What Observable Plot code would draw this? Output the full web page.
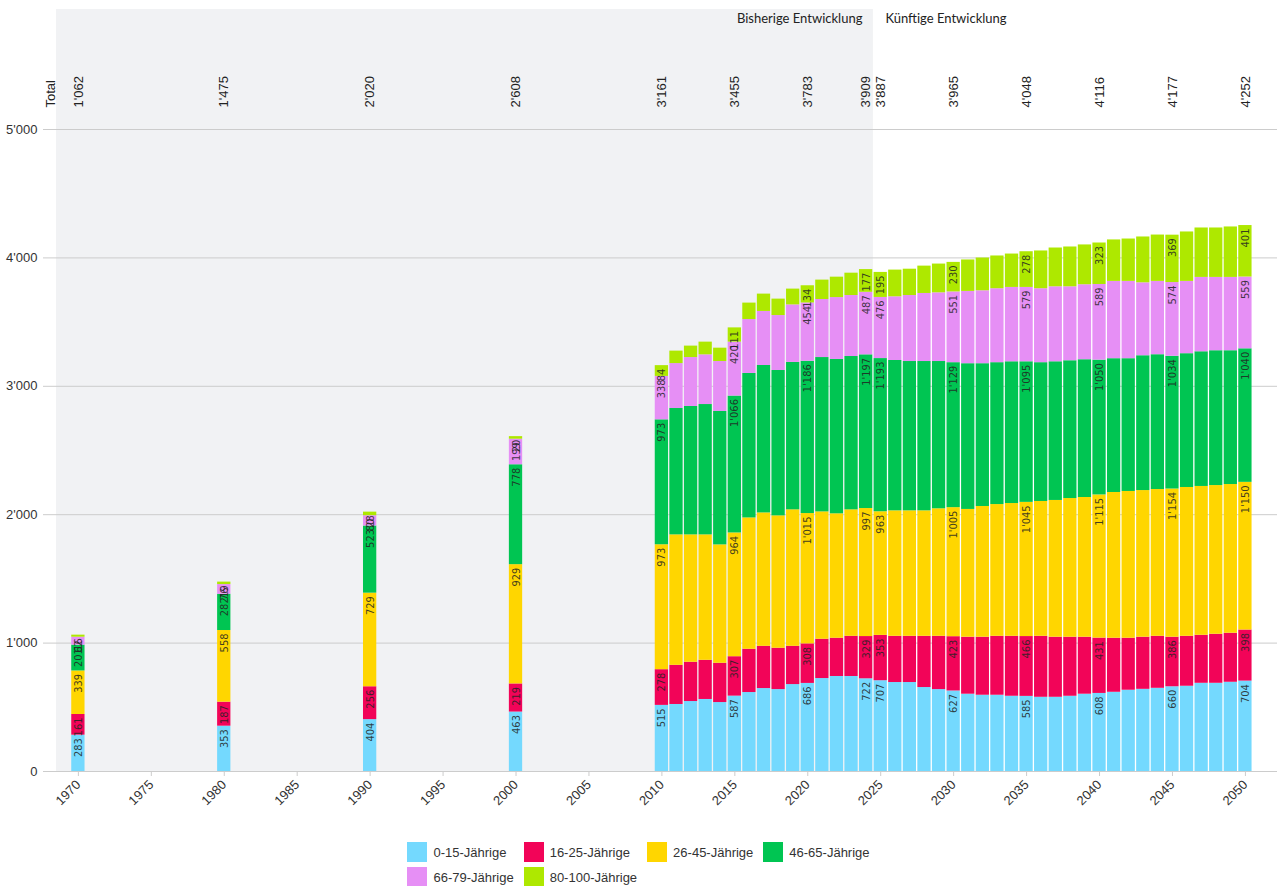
<!DOCTYPE html>
<html><head><meta charset="utf-8">
<script src="https://cdn.jsdelivr.net/npm/d3@7"></script>
<script src="https://cdn.jsdelivr.net/npm/@observablehq/plot@0.6"></script>
<style>
body{margin:0;background:#fff;font-family:"Liberation Sans",Arial,sans-serif;}
#legend{display:grid;grid-template-columns:repeat(4,auto);justify-content:center;column-gap:10px;row-gap:5px;margin-top:22px;font-size:13px;color:#333}
.item{display:flex;align-items:center;gap:6px;height:20px}
.sw{width:20px;height:20px;flex:none}
</style></head><body>
<div id="chart"></div><div id="legend"></div>
<script>
const years = [1970,1980,1990,2000,2010,2011,2012,2013,2014,2015,2016,2017,2018,2019,2020,2021,2022,2023,2024,2025,2026,2027,2028,2029,2030,2031,2032,2033,2034,2035,2036,2037,2038,2039,2040,2041,2042,2043,2044,2045,2046,2047,2048,2049,2050];
const groups = ["0-15-Jährige","16-25-Jährige","26-45-Jährige","46-65-Jährige","66-79-Jährige","80-100-Jährige"];
const colors = ["#74d9fe","#f20458","#ffd600","#00c552","#e68ff5","#aee800"];
const age0_15 = [283,353,404,463,515,522,545,561,537,587,615,646,638,677,686,724,740,740,722,707,693,693,654,638,627,602,594,594,586,585,578,578,586,602,608,617,633,640,648,660,664,687,687,695,704];
const age16_25 = [161,187,256,219,278,305,306,305,306,307,337,329,322,298,308,306,298,313,329,353,360,360,399,415,423,444,452,459,467,466,475,468,460,444,431,421,405,406,405,386,389,374,382,382,398];
const age26_45 = [339,558,729,929,973,1016,992,977,922,964,1023,1039,1031,1063,1015,992,969,985,997,963,977,977,977,993,1005,995,1018,1026,1034,1045,1050,1065,1080,1088,1115,1135,1143,1142,1143,1154,1159,1159,1158,1158,1150];
const age46_65 = [201,282,523,778,973,984,1000,1015,1039,1066,1125,1148,1132,1148,1186,1202,1202,1194,1197,1193,1171,1163,1163,1147,1129,1135,1112,1105,1104,1095,1081,1080,1073,1073,1050,1042,1034,1050,1050,1034,1042,1049,1050,1042,1040];
const age66_79 = [62,76,80,199,338,350,381,387,389,420,420,421,428,448,454,452,482,475,487,476,496,514,530,535,551,563,568,576,579,579,576,584,576,584,589,602,602,568,571,574,563,579,571,571,559];
const age80_100 = [16,19,28,20,84,97,89,99,104,111,128,135,128,123,134,151,159,174,177,195,208,205,213,224,230,245,255,255,260,278,294,302,310,310,323,323,330,357,361,369,385,385,385,393,401];
const labelYears = [1970,1980,1990,2000,2010,2015,2020,2024,2025,2030,2035,2040,2045,2050];
const xTicks = [1970,1975,1980,1985,1990,1995,2000,2005,2010,2015,2020,2025,2030,2035,2040,2045,2050];
const yTicks = [0,1000,2000,3000,4000,5000];
const splitYear = 2024.5;
const xDomain = [1968.5, 2052.2];

const series = [age0_15, age16_25, age26_45, age46_65, age66_79, age80_100];
const fmt = d3.formatLocale({decimal:".", thousands:"'", grouping:[3], currency:["",""]}).format(",");
const rows = [];
years.forEach((yr,i)=>groups.forEach((g,j)=>rows.push({year:yr, group:g, value:series[j][i]})));
const labelRows = rows.filter(d=>labelYears.includes(d.year));
const totals = years.map((yr,i)=>({year:yr, total:d3.sum(series, s=>s[i])})).filter(d=>labelYears.includes(d.year));

const chart = Plot.plot({
  width:1277, height:820,
  marginLeft:56, marginRight:0, marginTop:129, marginBottom:49,
  x:{type:"linear", domain:xDomain},
  y:{domain:[0,5000]},
  color:{domain:groups, range:colors},
  style:{fontFamily:"'Liberation Sans', Arial, sans-serif", fontSize:"13px", color:"#333", background:"#fff"},
  marks:[
    Plot.rect([0], {x1:[xDomain[0]], x2:[splitYear], fill:"#f1f2f4", insetTop:-120}),
    Plot.gridY({ticks:yTicks, stroke:"#cccccc", strokeOpacity:1}),
    Plot.axisY({ticks:yTicks, tickSize:13, tickPadding:6, tickFormat:fmt, stroke:"#cccccc", label:null}),
    Plot.axisX({ticks:xTicks, tickFormat:"d", tickRotate:-45, tickSize:5, tickPadding:6, stroke:"#cccccc", label:null}),
    Plot.rect(rows, Plot.stackY({x:"year", x1:d=>d.year-0.5, x2:d=>d.year+0.5, y:"value", fill:"group", insetLeft:0.65, insetRight:0.65})),
    Plot.text(labelRows, Plot.stackY2({x:"year", y:"value", z:"group", text:d=>fmt(d.value), rotate:-90, textAnchor:"end", dy:3,
      fill:"#222", fillOpacity:0.85, fontSize:11, fontFamily:"'DejaVu Sans Condensed', 'DejaVu Sans', sans-serif", fontStretch:"condensed"})),
    Plot.text(totals, {x:"year", frameAnchor:"top", lineAnchor:"middle", dy:-22, rotate:-90, textAnchor:"start", text:d=>fmt(d.total), fill:"#222"}),
    Plot.text(["Total"], {frameAnchor:"top-left", lineAnchor:"middle", dx:-6, dy:-22, rotate:-90, textAnchor:"start", text:d=>d, fill:"#222"}),
    Plot.text(["Bisherige Entwicklung"], {x:[splitYear], frameAnchor:"top", lineAnchor:"middle", dx:-11, dy:-111, textAnchor:"end", text:d=>d, fill:"#222", fontFamily:"Lato, sans-serif"}),
    Plot.text(["Künftige Entwicklung"], {x:[splitYear], frameAnchor:"top", lineAnchor:"middle", dx:12, dy:-111, textAnchor:"start", text:d=>d, fill:"#222", fontFamily:"Lato, sans-serif"})
  ]
});
document.getElementById("chart").append(chart);

const legend = d3.select("#legend");
groups.forEach((g,i)=>{
  const it = legend.append("div").attr("class","item");
  it.append("div").attr("class","sw").style("background", colors[i]);
  it.append("span").text(g);
});
</script>
</body></html>
